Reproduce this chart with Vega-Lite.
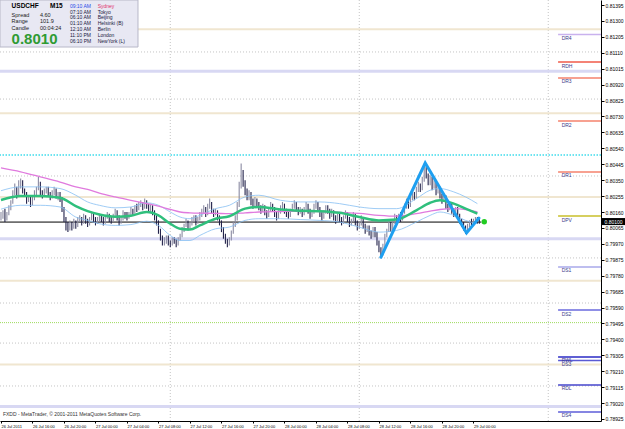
{
"$schema": "https://vega.github.io/schema/vega-lite/v6.json",
"width": 601, "height": 421,
"autosize": "none",
"padding": {"left": 0, "top": 0, "right": 24, "bottom": 8},
"background": "white",
"config": {"font": "Liberation Sans", "view": {"stroke": null}, "axis": {"grid": false}},
"datasets": {
"bars": [
{"i":0,"o":0.8013,"h":0.8016,"l":0.8011,"c":0.8014},
{"i":1,"o":0.8014,"h":0.8017,"l":0.8012,"c":0.8016},
{"i":2,"o":0.8016,"h":0.8018,"l":0.801,"c":0.8012},
{"i":3,"o":0.8012,"h":0.8016,"l":0.8011,"c":0.8015},
{"i":4,"o":0.8015,"h":0.802,"l":0.8014,"c":0.8018},
{"i":5,"o":0.8018,"h":0.8023,"l":0.8017,"c":0.8022},
{"i":6,"o":0.8022,"h":0.8029,"l":0.8021,"c":0.8027},
{"i":7,"o":0.8027,"h":0.8033,"l":0.8026,"c":0.803},
{"i":8,"o":0.803,"h":0.8031,"l":0.8024,"c":0.8026},
{"i":9,"o":0.8026,"h":0.8035,"l":0.8025,"c":0.8032},
{"i":10,"o":0.8032,"h":0.8036,"l":0.803,"c":0.8034},
{"i":11,"o":0.8034,"h":0.8035,"l":0.8027,"c":0.8029},
{"i":12,"o":0.8029,"h":0.803,"l":0.8025,"c":0.8027},
{"i":13,"o":0.8027,"h":0.8028,"l":0.8021,"c":0.8023},
{"i":14,"o":0.8023,"h":0.8026,"l":0.8022,"c":0.8025},
{"i":15,"o":0.8025,"h":0.8026,"l":0.8019,"c":0.8021},
{"i":16,"o":0.8021,"h":0.8025,"l":0.802,"c":0.8024},
{"i":17,"o":0.8024,"h":0.8029,"l":0.8023,"c":0.8027},
{"i":18,"o":0.8027,"h":0.8031,"l":0.8026,"c":0.803},
{"i":19,"o":0.803,"h":0.8037,"l":0.8029,"c":0.8033},
{"i":20,"o":0.8033,"h":0.8034,"l":0.8026,"c":0.8028},
{"i":21,"o":0.8028,"h":0.8029,"l":0.8024,"c":0.8026},
{"i":22,"o":0.8026,"h":0.803,"l":0.8025,"c":0.8028},
{"i":23,"o":0.8028,"h":0.8031,"l":0.8027,"c":0.803},
{"i":24,"o":0.803,"h":0.8031,"l":0.8025,"c":0.8027},
{"i":25,"o":0.8027,"h":0.8028,"l":0.8023,"c":0.8025},
{"i":26,"o":0.8025,"h":0.8029,"l":0.8024,"c":0.8028},
{"i":27,"o":0.8028,"h":0.8031,"l":0.8026,"c":0.8029},
{"i":28,"o":0.8029,"h":0.803,"l":0.8024,"c":0.8026},
{"i":29,"o":0.8026,"h":0.8028,"l":0.8023,"c":0.8027},
{"i":30,"o":0.8027,"h":0.8028,"l":0.8022,"c":0.8024},
{"i":31,"o":0.8024,"h":0.8025,"l":0.8016,"c":0.8018},
{"i":32,"o":0.8018,"h":0.8019,"l":0.801,"c":0.8012},
{"i":33,"o":0.8012,"h":0.8013,"l":0.8005,"c":0.8008},
{"i":34,"o":0.8008,"h":0.801,"l":0.8004,"c":0.8006},
{"i":35,"o":0.8006,"h":0.8011,"l":0.8005,"c":0.8009},
{"i":36,"o":0.8009,"h":0.801,"l":0.8005,"c":0.8007},
{"i":37,"o":0.8007,"h":0.8012,"l":0.8006,"c":0.801},
{"i":38,"o":0.801,"h":0.8011,"l":0.8006,"c":0.8008},
{"i":39,"o":0.8008,"h":0.8013,"l":0.8007,"c":0.8011},
{"i":40,"o":0.8011,"h":0.8014,"l":0.801,"c":0.8012},
{"i":41,"o":0.8012,"h":0.8013,"l":0.8008,"c":0.801},
{"i":42,"o":0.801,"h":0.8015,"l":0.8009,"c":0.8013},
{"i":43,"o":0.8013,"h":0.8014,"l":0.8009,"c":0.8011},
{"i":44,"o":0.8011,"h":0.8012,"l":0.8007,"c":0.8009},
{"i":45,"o":0.8009,"h":0.8013,"l":0.8008,"c":0.8012},
{"i":46,"o":0.8012,"h":0.8016,"l":0.8011,"c":0.8014},
{"i":47,"o":0.8014,"h":0.8015,"l":0.801,"c":0.8012},
{"i":48,"o":0.8012,"h":0.8013,"l":0.8008,"c":0.801},
{"i":49,"o":0.801,"h":0.8013,"l":0.8009,"c":0.8011},
{"i":50,"o":0.8011,"h":0.8015,"l":0.801,"c":0.8013},
{"i":51,"o":0.8013,"h":0.8014,"l":0.801,"c":0.8012},
{"i":52,"o":0.8012,"h":0.8013,"l":0.8008,"c":0.801},
{"i":53,"o":0.801,"h":0.8014,"l":0.8009,"c":0.8013},
{"i":54,"o":0.8013,"h":0.8016,"l":0.8012,"c":0.8014},
{"i":55,"o":0.8014,"h":0.8015,"l":0.801,"c":0.8012},
{"i":56,"o":0.8012,"h":0.8013,"l":0.8009,"c":0.8011},
{"i":57,"o":0.8011,"h":0.8015,"l":0.801,"c":0.8014},
{"i":58,"o":0.8014,"h":0.8018,"l":0.8013,"c":0.8016},
{"i":59,"o":0.8016,"h":0.8017,"l":0.8011,"c":0.8013},
{"i":60,"o":0.8013,"h":0.8014,"l":0.8008,"c":0.801},
{"i":61,"o":0.801,"h":0.8013,"l":0.8009,"c":0.8012},
{"i":62,"o":0.8012,"h":0.8017,"l":0.8011,"c":0.8015},
{"i":63,"o":0.8015,"h":0.8016,"l":0.8012,"c":0.8014},
{"i":64,"o":0.8014,"h":0.8016,"l":0.8011,"c":0.8013},
{"i":65,"o":0.8013,"h":0.8016,"l":0.8012,"c":0.8015},
{"i":66,"o":0.8015,"h":0.8019,"l":0.8014,"c":0.8017},
{"i":67,"o":0.8017,"h":0.8018,"l":0.8014,"c":0.8016},
{"i":68,"o":0.8016,"h":0.802,"l":0.8015,"c":0.8019},
{"i":69,"o":0.8019,"h":0.8021,"l":0.8016,"c":0.8018},
{"i":70,"o":0.8018,"h":0.8022,"l":0.8017,"c":0.802},
{"i":71,"o":0.802,"h":0.8023,"l":0.8019,"c":0.8021},
{"i":72,"o":0.8021,"h":0.8022,"l":0.8017,"c":0.8019},
{"i":73,"o":0.8019,"h":0.8024,"l":0.8018,"c":0.8022},
{"i":74,"o":0.8022,"h":0.8023,"l":0.8018,"c":0.802},
{"i":75,"o":0.802,"h":0.8021,"l":0.8016,"c":0.8018},
{"i":76,"o":0.8018,"h":0.8021,"l":0.8016,"c":0.8019},
{"i":77,"o":0.8019,"h":0.802,"l":0.8014,"c":0.8016},
{"i":78,"o":0.8016,"h":0.8017,"l":0.8011,"c":0.8013},
{"i":79,"o":0.8013,"h":0.8014,"l":0.8008,"c":0.801},
{"i":80,"o":0.801,"h":0.8011,"l":0.8003,"c":0.8005},
{"i":81,"o":0.8005,"h":0.8006,"l":0.7999,"c":0.8001},
{"i":82,"o":0.8001,"h":0.8002,"l":0.7996,"c":0.7998},
{"i":83,"o":0.7998,"h":0.8001,"l":0.7996,"c":0.7999},
{"i":84,"o":0.7999,"h":0.8002,"l":0.7997,"c":0.8001},
{"i":85,"o":0.8001,"h":0.8002,"l":0.7996,"c":0.7998},
{"i":86,"o":0.7998,"h":0.7999,"l":0.7995,"c":0.7997},
{"i":87,"o":0.7997,"h":0.8001,"l":0.7996,"c":0.8},
{"i":88,"o":0.8,"h":0.8001,"l":0.7997,"c":0.7999},
{"i":89,"o":0.7999,"h":0.8,"l":0.7995,"c":0.7997},
{"i":90,"o":0.7997,"h":0.8001,"l":0.7996,"c":0.8},
{"i":91,"o":0.8,"h":0.8003,"l":0.7999,"c":0.8002},
{"i":92,"o":0.8002,"h":0.8007,"l":0.8001,"c":0.8005},
{"i":93,"o":0.8005,"h":0.8009,"l":0.8004,"c":0.8008},
{"i":94,"o":0.8008,"h":0.8012,"l":0.8007,"c":0.801},
{"i":95,"o":0.801,"h":0.8011,"l":0.8005,"c":0.8007},
{"i":96,"o":0.8007,"h":0.801,"l":0.8006,"c":0.8009},
{"i":97,"o":0.8009,"h":0.8013,"l":0.8008,"c":0.8011},
{"i":98,"o":0.8011,"h":0.8014,"l":0.801,"c":0.8013},
{"i":99,"o":0.8013,"h":0.8014,"l":0.8008,"c":0.801},
{"i":100,"o":0.801,"h":0.8013,"l":0.8009,"c":0.8012},
{"i":101,"o":0.8012,"h":0.8016,"l":0.8011,"c":0.8014},
{"i":102,"o":0.8014,"h":0.8018,"l":0.8013,"c":0.8016},
{"i":103,"o":0.8016,"h":0.802,"l":0.8015,"c":0.8018},
{"i":104,"o":0.8018,"h":0.8019,"l":0.8013,"c":0.8015},
{"i":105,"o":0.8015,"h":0.8021,"l":0.8014,"c":0.8019},
{"i":106,"o":0.8019,"h":0.8024,"l":0.8018,"c":0.8021},
{"i":107,"o":0.8021,"h":0.8022,"l":0.8015,"c":0.8017},
{"i":108,"o":0.8017,"h":0.8018,"l":0.8013,"c":0.8015},
{"i":109,"o":0.8015,"h":0.8018,"l":0.8014,"c":0.8016},
{"i":110,"o":0.8016,"h":0.8017,"l":0.8011,"c":0.8013},
{"i":111,"o":0.8013,"h":0.8014,"l":0.8008,"c":0.801},
{"i":112,"o":0.801,"h":0.8011,"l":0.8004,"c":0.8006},
{"i":113,"o":0.8006,"h":0.8007,"l":0.8,"c":0.8002},
{"i":114,"o":0.8002,"h":0.8003,"l":0.7997,"c":0.7999},
{"i":115,"o":0.7999,"h":0.8,"l":0.7995,"c":0.7997},
{"i":116,"o":0.7997,"h":0.8001,"l":0.7996,"c":0.8},
{"i":117,"o":0.8,"h":0.8005,"l":0.7999,"c":0.8004},
{"i":118,"o":0.8004,"h":0.801,"l":0.8003,"c":0.8008},
{"i":119,"o":0.8008,"h":0.8014,"l":0.8007,"c":0.8012},
{"i":120,"o":0.8012,"h":0.8022,"l":0.8011,"c":0.802},
{"i":121,"o":0.802,"h":0.8034,"l":0.8019,"c":0.8032},
{"i":122,"o":0.8032,"h":0.8045,"l":0.803,"c":0.804},
{"i":123,"o":0.804,"h":0.8041,"l":0.8031,"c":0.8033},
{"i":124,"o":0.8033,"h":0.8035,"l":0.8026,"c":0.8028},
{"i":125,"o":0.8028,"h":0.803,"l":0.8023,"c":0.8025},
{"i":126,"o":0.8025,"h":0.8029,"l":0.8023,"c":0.8027},
{"i":127,"o":0.8027,"h":0.8028,"l":0.802,"c":0.8022},
{"i":128,"o":0.8022,"h":0.8024,"l":0.8018,"c":0.802},
{"i":129,"o":0.802,"h":0.8025,"l":0.8019,"c":0.8023},
{"i":130,"o":0.8023,"h":0.8024,"l":0.8019,"c":0.8021},
{"i":131,"o":0.8021,"h":0.8022,"l":0.8017,"c":0.8019},
{"i":132,"o":0.8019,"h":0.802,"l":0.8015,"c":0.8017},
{"i":133,"o":0.8017,"h":0.8021,"l":0.8016,"c":0.8019},
{"i":134,"o":0.8019,"h":0.802,"l":0.8014,"c":0.8016},
{"i":135,"o":0.8016,"h":0.8017,"l":0.8012,"c":0.8014},
{"i":136,"o":0.8014,"h":0.8018,"l":0.8013,"c":0.8017},
{"i":137,"o":0.8017,"h":0.8022,"l":0.8016,"c":0.802},
{"i":138,"o":0.802,"h":0.8021,"l":0.8016,"c":0.8018},
{"i":139,"o":0.8018,"h":0.8019,"l":0.8013,"c":0.8015},
{"i":140,"o":0.8015,"h":0.8016,"l":0.8011,"c":0.8013},
{"i":141,"o":0.8013,"h":0.8017,"l":0.8012,"c":0.8016},
{"i":142,"o":0.8016,"h":0.802,"l":0.8015,"c":0.8018},
{"i":143,"o":0.8018,"h":0.8022,"l":0.8017,"c":0.802},
{"i":144,"o":0.802,"h":0.8021,"l":0.8015,"c":0.8017},
{"i":145,"o":0.8017,"h":0.8018,"l":0.8013,"c":0.8015},
{"i":146,"o":0.8015,"h":0.8016,"l":0.8012,"c":0.8014},
{"i":147,"o":0.8014,"h":0.8018,"l":0.8013,"c":0.8017},
{"i":148,"o":0.8017,"h":0.8021,"l":0.8016,"c":0.8019},
{"i":149,"o":0.8019,"h":0.8023,"l":0.8018,"c":0.8021},
{"i":150,"o":0.8021,"h":0.8022,"l":0.8016,"c":0.8018},
{"i":151,"o":0.8018,"h":0.8019,"l":0.8014,"c":0.8016},
{"i":152,"o":0.8016,"h":0.8019,"l":0.8015,"c":0.8017},
{"i":153,"o":0.8017,"h":0.8018,"l":0.8013,"c":0.8015},
{"i":154,"o":0.8015,"h":0.8019,"l":0.8014,"c":0.8018},
{"i":155,"o":0.8018,"h":0.8022,"l":0.8017,"c":0.802},
{"i":156,"o":0.802,"h":0.8021,"l":0.8015,"c":0.8017},
{"i":157,"o":0.8017,"h":0.8018,"l":0.8012,"c":0.8014},
{"i":158,"o":0.8014,"h":0.8017,"l":0.8013,"c":0.8016},
{"i":159,"o":0.8016,"h":0.8021,"l":0.8015,"c":0.8019},
{"i":160,"o":0.8019,"h":0.8023,"l":0.8018,"c":0.8021},
{"i":161,"o":0.8021,"h":0.8022,"l":0.8016,"c":0.8018},
{"i":162,"o":0.8018,"h":0.8019,"l":0.8013,"c":0.8015},
{"i":163,"o":0.8015,"h":0.8016,"l":0.8011,"c":0.8013},
{"i":164,"o":0.8013,"h":0.8017,"l":0.8012,"c":0.8016},
{"i":165,"o":0.8016,"h":0.802,"l":0.8015,"c":0.8019},
{"i":166,"o":0.8019,"h":0.802,"l":0.8015,"c":0.8017},
{"i":167,"o":0.8017,"h":0.8018,"l":0.8012,"c":0.8014},
{"i":168,"o":0.8014,"h":0.8018,"l":0.8013,"c":0.8016},
{"i":169,"o":0.8016,"h":0.8017,"l":0.8011,"c":0.8013},
{"i":170,"o":0.8013,"h":0.8014,"l":0.8009,"c":0.8011},
{"i":171,"o":0.8011,"h":0.8015,"l":0.801,"c":0.8014},
{"i":172,"o":0.8014,"h":0.8015,"l":0.801,"c":0.8012},
{"i":173,"o":0.8012,"h":0.8013,"l":0.8008,"c":0.801},
{"i":174,"o":0.801,"h":0.8014,"l":0.8009,"c":0.8013},
{"i":175,"o":0.8013,"h":0.8017,"l":0.8012,"c":0.8015},
{"i":176,"o":0.8015,"h":0.8016,"l":0.801,"c":0.8012},
{"i":177,"o":0.8012,"h":0.8013,"l":0.8007,"c":0.8009},
{"i":178,"o":0.8009,"h":0.8012,"l":0.8008,"c":0.8011},
{"i":179,"o":0.8011,"h":0.8016,"l":0.801,"c":0.8014},
{"i":180,"o":0.8014,"h":0.8015,"l":0.8008,"c":0.801},
{"i":181,"o":0.801,"h":0.8011,"l":0.8005,"c":0.8007},
{"i":182,"o":0.8007,"h":0.801,"l":0.8006,"c":0.8009},
{"i":183,"o":0.8009,"h":0.8014,"l":0.8008,"c":0.8012},
{"i":184,"o":0.8012,"h":0.8013,"l":0.8006,"c":0.8008},
{"i":185,"o":0.8008,"h":0.8009,"l":0.8003,"c":0.8005},
{"i":186,"o":0.8005,"h":0.8008,"l":0.8004,"c":0.8007},
{"i":187,"o":0.8007,"h":0.8008,"l":0.8002,"c":0.8004},
{"i":188,"o":0.8004,"h":0.8005,"l":0.8,"c":0.8002},
{"i":189,"o":0.8002,"h":0.8007,"l":0.8001,"c":0.8006},
{"i":190,"o":0.8006,"h":0.8007,"l":0.8001,"c":0.8003},
{"i":191,"o":0.8003,"h":0.8004,"l":0.7996,"c":0.7998},
{"i":192,"o":0.7998,"h":0.7999,"l":0.7992,"c":0.7994},
{"i":193,"o":0.7994,"h":0.7995,"l":0.7989,"c":0.7991},
{"i":194,"o":0.7991,"h":0.7997,"l":0.799,"c":0.7996},
{"i":195,"o":0.7996,"h":0.8003,"l":0.7995,"c":0.8002},
{"i":196,"o":0.8002,"h":0.8006,"l":0.8001,"c":0.8005},
{"i":197,"o":0.8005,"h":0.801,"l":0.8004,"c":0.8009},
{"i":198,"o":0.8009,"h":0.801,"l":0.8004,"c":0.8006},
{"i":199,"o":0.8006,"h":0.8011,"l":0.8005,"c":0.801},
{"i":200,"o":0.801,"h":0.8015,"l":0.8009,"c":0.8013},
{"i":201,"o":0.8013,"h":0.8014,"l":0.8009,"c":0.8011},
{"i":202,"o":0.8011,"h":0.8015,"l":0.801,"c":0.8014},
{"i":203,"o":0.8014,"h":0.8016,"l":0.801,"c":0.8012},
{"i":204,"o":0.8012,"h":0.8017,"l":0.8011,"c":0.8016},
{"i":205,"o":0.8016,"h":0.8021,"l":0.8015,"c":0.8019},
{"i":206,"o":0.8019,"h":0.8024,"l":0.8018,"c":0.8022},
{"i":207,"o":0.8022,"h":0.8023,"l":0.8018,"c":0.802},
{"i":208,"o":0.802,"h":0.8026,"l":0.8019,"c":0.8024},
{"i":209,"o":0.8024,"h":0.8029,"l":0.8023,"c":0.8027},
{"i":210,"o":0.8027,"h":0.8028,"l":0.8023,"c":0.8025},
{"i":211,"o":0.8025,"h":0.8031,"l":0.8024,"c":0.8029},
{"i":212,"o":0.8029,"h":0.8034,"l":0.8028,"c":0.8032},
{"i":213,"o":0.8032,"h":0.8033,"l":0.8028,"c":0.803},
{"i":214,"o":0.803,"h":0.8037,"l":0.8029,"c":0.8035},
{"i":215,"o":0.8035,"h":0.8045,"l":0.8034,"c":0.8041},
{"i":216,"o":0.8041,"h":0.8043,"l":0.8036,"c":0.8038},
{"i":217,"o":0.8038,"h":0.8039,"l":0.8032,"c":0.8034},
{"i":218,"o":0.8034,"h":0.8038,"l":0.8032,"c":0.8036},
{"i":219,"o":0.8036,"h":0.8037,"l":0.8029,"c":0.8031},
{"i":220,"o":0.8031,"h":0.8035,"l":0.803,"c":0.8033},
{"i":221,"o":0.8033,"h":0.8034,"l":0.8026,"c":0.8028},
{"i":222,"o":0.8028,"h":0.8032,"l":0.8027,"c":0.803},
{"i":223,"o":0.803,"h":0.8031,"l":0.8024,"c":0.8026},
{"i":224,"o":0.8026,"h":0.8027,"l":0.8021,"c":0.8023},
{"i":225,"o":0.8023,"h":0.8027,"l":0.8022,"c":0.8025},
{"i":226,"o":0.8025,"h":0.8026,"l":0.8018,"c":0.802},
{"i":227,"o":0.802,"h":0.8021,"l":0.8016,"c":0.8018},
{"i":228,"o":0.8018,"h":0.8022,"l":0.8017,"c":0.8021},
{"i":229,"o":0.8021,"h":0.8022,"l":0.8015,"c":0.8017},
{"i":230,"o":0.8017,"h":0.8018,"l":0.8013,"c":0.8015},
{"i":231,"o":0.8015,"h":0.8019,"l":0.8014,"c":0.8018},
{"i":232,"o":0.8018,"h":0.8019,"l":0.8012,"c":0.8014},
{"i":233,"o":0.8014,"h":0.8015,"l":0.8009,"c":0.8011},
{"i":234,"o":0.8011,"h":0.8012,"l":0.8007,"c":0.8009},
{"i":235,"o":0.8009,"h":0.801,"l":0.8005,"c":0.8007},
{"i":236,"o":0.8007,"h":0.8008,"l":0.8003,"c":0.8006},
{"i":237,"o":0.8006,"h":0.8009,"l":0.8005,"c":0.8008},
{"i":238,"o":0.8008,"h":0.8011,"l":0.8007,"c":0.801},
{"i":239,"o":0.801,"h":0.8012,"l":0.8008,"c":0.8009},
{"i":240,"o":0.8009,"h":0.8012,"l":0.8008,"c":0.8011},
{"i":241,"o":0.8011,"h":0.8013,"l":0.801,"c":0.8012},
{"i":242,"o":0.8012,"h":0.8013,"l":0.8009,"c":0.8011},
{"i":243,"o":0.8011,"h":0.8012,"l":0.8009,"c":0.801}
],
"ma": [
{"i":0,"pk":0.80423,"g":0.80232,"u":0.80287,"d":0.80177},
{"i":10,"pk":0.804,"g":0.80255,"u":0.8031,"d":0.802},
{"i":20,"pk":0.8037,"g":0.80255,"u":0.8031,"d":0.802},
{"i":30,"pk":0.80339,"g":0.80245,"u":0.803,"d":0.8019},
{"i":38,"pk":0.8031,"g":0.80195,"u":0.8026,"d":0.8013},
{"i":44,"pk":0.80295,"g":0.80165,"u":0.8022,"d":0.8011},
{"i":50,"pk":0.80273,"g":0.80145,"u":0.802,"d":0.8009},
{"i":58,"pk":0.8025,"g":0.80132,"u":0.80185,"d":0.8008},
{"i":66,"pk":0.8023,"g":0.80138,"u":0.8019,"d":0.80085},
{"i":74,"pk":0.8021,"g":0.8016,"u":0.80215,"d":0.80105},
{"i":80,"pk":0.80195,"g":0.8014,"u":0.802,"d":0.8008},
{"i":86,"pk":0.80175,"g":0.8009,"u":0.8016,"d":0.8002},
{"i":91,"pk":0.8016,"g":0.8006,"u":0.8013,"d":0.7999},
{"i":96,"pk":0.80155,"g":0.80055,"u":0.8012,"d":0.7999},
{"i":101,"pk":0.80153,"g":0.8008,"u":0.8014,"d":0.8002},
{"i":109,"pk":0.80152,"g":0.8012,"u":0.8018,"d":0.8006},
{"i":116,"pk":0.8015,"g":0.80135,"u":0.802,"d":0.8007},
{"i":124,"pk":0.80155,"g":0.8018,"u":0.8025,"d":0.8011},
{"i":131,"pk":0.8016,"g":0.8019,"u":0.8026,"d":0.8012},
{"i":142,"pk":0.80163,"g":0.80175,"u":0.8023,"d":0.8012},
{"i":152,"pk":0.80165,"g":0.80168,"u":0.8022,"d":0.80115},
{"i":162,"pk":0.80163,"g":0.80165,"u":0.8022,"d":0.8011},
{"i":172,"pk":0.80158,"g":0.80155,"u":0.8021,"d":0.801},
{"i":182,"pk":0.80152,"g":0.8013,"u":0.8019,"d":0.8007},
{"i":192,"pk":0.8014,"g":0.8011,"u":0.8018,"d":0.8004},
{"i":201,"pk":0.80135,"g":0.80115,"u":0.8018,"d":0.8005},
{"i":211,"pk":0.8015,"g":0.8017,"u":0.8024,"d":0.801},
{"i":218,"pk":0.80165,"g":0.80215,"u":0.8029,"d":0.8014},
{"i":223,"pk":0.80175,"g":0.8023,"u":0.803,"d":0.8016},
{"i":230,"pk":0.8018,"g":0.8021,"u":0.8028,"d":0.8014},
{"i":236,"pk":0.80175,"g":0.8018,"u":0.8025,"d":0.8011},
{"i":242,"pk":0.8016,"g":0.8015,"u":0.8021,"d":0.8009}
]
},
"layer": [
{
"data": {"values": [{"i":86},{"i":182},{"i":278}]},
"mark": {"type": "rule", "color": "#c4c4c4", "strokeDash": [1, 2], "strokeWidth": 1},
"encoding": {"x": {"field": "i", "type": "quantitative", "title": null}}
},
{
"data": {"values": [{"p":0.81},{"p":0.8},{"p":0.79}]},
"mark": {"type": "rule", "color": "#d8d8f3", "strokeWidth": 3},
"encoding": {"y": {"field": "p", "type": "quantitative", "title": null}}
},
{
"data": {"values": [{"p":0.8125},{"p":0.8075},{"p":0.8025},{"p":0.7975},{"p":0.7925}]},
"mark": {"type": "rule", "color": "#f0e6d0", "strokeWidth": 2},
"encoding": {"y": {"field": "p", "type": "quantitative", "title": null}}
},
{
"data": {"values": [{"p":0.81115},{"p":0.80834},{"p":0.80375},{"p":0.79886},{"p":0.79617},{"p":0.79378},{"p":0.79122}]},
"mark": {"type": "rule", "color": "#c4c4c4", "strokeDash": [1, 2], "strokeWidth": 1},
"encoding": {"y": {"field": "p", "type": "quantitative", "title": null}}
},
{
"data": {"values": [{"p":0.805}]},
"mark": {"type": "rule", "color": "#3fdcec", "strokeDash": [1.5, 1.5], "strokeWidth": 1.5},
"encoding": {"y": {"field": "p", "type": "quantitative", "title": null}}
},
{
"data": {"values": [{"p":0.795}]},
"mark": {"type": "rule", "color": "#9edc5e", "strokeDash": [1, 1], "strokeWidth": 1},
"encoding": {"y": {"field": "p", "type": "quantitative", "title": null}}
},
{
"data": {"values": [{"i0":-0.5,"i1":244,"p":0.801}]},
"mark": {"type": "rule", "color": "#000000", "strokeWidth": 1},
"encoding": {
"x": {"field": "i0", "type": "quantitative", "title": null},
"x2": {"field": "i1"},
"y": {"field": "p", "type": "quantitative", "title": null}
}
},
{
"data": {"values": [
{"n":"DR4","i0":283,"i1":304.8,"p":0.81219},
{"n":"RDH","i0":283,"i1":304.8,"p":0.81055},
{"n":"DR3","i0":283,"i1":304.8,"p":0.8096},
{"n":"DR2","i0":283,"i1":304.8,"p":0.80703},
{"n":"DR1","i0":283,"i1":304.8,"p":0.80399},
{"n":"DPV","i0":283,"i1":304.8,"p":0.80136},
{"n":"DS1","i0":283,"i1":304.8,"p":0.79832},
{"n":"DS2","i0":283,"i1":304.8,"p":0.79575},
{"n":"RWL","i0":283,"i1":304.8,"p":0.79295},
{"n":"DS3","i0":283,"i1":304.8,"p":0.79274},
{"n":"RDL","i0":283,"i1":304.8,"p":0.79128},
{"n":"DS4","i0":283,"i1":304.8,"p":0.78967}
]},
"mark": {"type": "rule", "strokeWidth": 1.5},
"encoding": {
"x": {"field": "i0", "type": "quantitative", "title": null},
"x2": {"field": "i1"},
"y": {"field": "p", "type": "quantitative", "title": null},
"color": {"field": "n", "type": "nominal", "legend": null,
"scale": {"domain": ["DR4","RDH","DR3","DR2","DR1","DPV","DS1","DS2","RWL","DS3","RDL","DS4"],
"range": ["#c9b2ee","#f05a48","#f4826c","#f4826c","#f4826c","#c8bf2a","#a9a9ea","#6a6ade","#2a2ac4","#5a5ad4","#4646cc","#5c5cd8"]}}
}
},
{
"data": {"values": [
{"t":"DR4","i":284.8,"p":0.81198},
{"t":"RDH","i":284.8,"p":0.81034},
{"t":"DR3","i":284.8,"p":0.80939},
{"t":"DR2","i":284.8,"p":0.80682},
{"t":"DR1","i":284.8,"p":0.80378},
{"t":"DPV","i":284.8,"p":0.80115},
{"t":"DS1","i":284.8,"p":0.79811},
{"t":"DS2","i":284.8,"p":0.79554},
{"t":"RWL","i":284.8,"p":0.79277},
{"t":"DS3","i":284.8,"p":0.79253},
{"t":"RDL","i":284.8,"p":0.79107},
{"t":"DS4","i":284.8,"p":0.78946}
]},
"mark": {"type": "text", "fontSize": 5, "color": "#3a3a8a", "align": "left", "baseline": "middle"},
"encoding": {
"x": {"field": "i", "type": "quantitative", "title": null},
"y": {"field": "p", "type": "quantitative", "title": null},
"text": {"field": "t"}
}
},
{
"data": {"name": "bars"},
"mark": {"type": "rule", "strokeWidth": 1.1},
"encoding": {
"x": {"field": "i", "type": "quantitative", "title": null,
"scale": {"domain": [-0.5, 304.8], "nice": false, "zero": false},
"axis": {"values": [0,16,32,48,64,80,96,112,128,144,160,176,192,208,224,240], "tickCount": 40,
"labelExpr": "['26 Jul 2011','26 Jul 16:00','26 Jul 20:00','27 Jul 00:00','27 Jul 04:00','27 Jul 08:00','27 Jul 12:00','27 Jul 16:00','27 Jul 20:00','28 Jul 00:00','28 Jul 04:00','28 Jul 08:00','28 Jul 12:00','28 Jul 16:00','28 Jul 20:00','29 Jul 00:00'][round(datum.value/16)]",
"labelFontSize": 4, "labelAlign": "left", "labelPadding": 1, "tickSize": 2,
"domainColor": "#000000", "tickColor": "#000000", "labelColor": "#000000",
"labelOverlap": false, "labelFlush": false, "labelBound": false}},
"y": {"field": "l", "type": "quantitative", "title": null,
"scale": {"domain": [0.78913, 0.81425], "nice": false, "zero": false},
"axis": {"orient": "right", "tickCount": 60,
"values": [0.78925,0.7902,0.79115,0.7921,0.79305,0.794,0.79495,0.7959,0.79685,0.7978,0.79875,0.7997,0.80065,0.8016,0.80255,0.8035,0.80445,0.8054,0.80635,0.8073,0.80825,0.8092,0.81015,0.8111,0.81205,0.813,0.81395],
"format": ".5f", "labelFontSize": 5, "tickSize": 3, "labelPadding": 1,
"domainColor": "#000000", "tickColor": "#000000", "labelColor": "#000000",
"labelOverlap": false, "labelFlush": false, "labelBound": false}},
"y2": {"field": "h"},
"color": {"condition": {"test": "datum.c >= datum.o", "value": "#8a8aa2"}, "value": "#22224a"}
}
},
{
"data": {"name": "ma"},
"mark": {"type": "line", "color": "#86bff2", "strokeWidth": 0.8, "interpolate": "monotone"},
"encoding": {
"x": {"field": "i", "type": "quantitative", "title": null},
"y": {"field": "u", "type": "quantitative", "title": null}
}
},
{
"data": {"name": "ma"},
"mark": {"type": "line", "color": "#86bff2", "strokeWidth": 0.8, "interpolate": "monotone"},
"encoding": {
"x": {"field": "i", "type": "quantitative", "title": null},
"y": {"field": "d", "type": "quantitative", "title": null}
}
},
{
"data": {"name": "ma"},
"mark": {"type": "line", "color": "#e07ade", "strokeWidth": 1.3, "interpolate": "monotone"},
"encoding": {
"x": {"field": "i", "type": "quantitative", "title": null},
"y": {"field": "pk", "type": "quantitative", "title": null}
}
},
{
"data": {"name": "ma"},
"mark": {"type": "line", "color": "#2fbf7c", "strokeWidth": 2.5, "interpolate": "monotone"},
"encoding": {
"x": {"field": "i", "type": "quantitative", "title": null},
"y": {"field": "g", "type": "quantitative", "title": null}
}
},
{
"data": {"values": [{"i":193,"p":0.7989},{"i":215.5,"p":0.80452},{"i":236.5,"p":0.80035},{"i":242.8,"p":0.80124}]},
"mark": {"type": "line", "color": "#1e9ff0", "strokeWidth": 3, "strokeCap": "round", "strokeJoin": "miter"},
"encoding": {
"x": {"field": "i", "type": "quantitative", "title": null},
"y": {"field": "p", "type": "quantitative", "title": null}
}
},
{
"data": {"values": [{"i":245.5,"p":0.80102}]},
"mark": {"type": "point", "filled": true, "size": 30, "color": "#22cc22", "opacity": 1},
"encoding": {
"x": {"field": "i", "type": "quantitative", "title": null},
"y": {"field": "p", "type": "quantitative", "title": null}
}
},
{
"data": {"values": [{"i0":-0.5,"i1":69.6,"p0":0.81425,"p1":0.811445}]},
"mark": {"type": "rect", "fill": "#e8e8f3", "stroke": "#b8b8c8", "strokeWidth": 1},
"encoding": {
"x": {"field": "i0", "type": "quantitative", "title": null},
"x2": {"field": "i1"},
"y": {"field": "p0", "type": "quantitative", "title": null},
"y2": {"field": "p1"}
}
},
{
"data": {"values": [{"i":5.4,"p":0.81389,"t":"USDCHF"},{"i":24.9,"p":0.81389,"t":"M15"}]},
"mark": {"type": "text", "fontSize": 6.5, "fontWeight": "bold", "color": "#000000", "align": "left", "baseline": "middle"},
"encoding": {
"x": {"field": "i", "type": "quantitative", "title": null},
"y": {"field": "p", "type": "quantitative", "title": null},
"text": {"field": "t"}
}
},
{
"data": {"values": [
{"i":5.4,"p":0.81336,"t":"Spread"},{"i":19.8,"p":0.81336,"t":"4.60"},
{"i":5.4,"p":0.81298,"t":"Range"},{"i":19.8,"p":0.81298,"t":"101.9"},
{"i":5.4,"p":0.81256,"t":"Candle"},{"i":19.8,"p":0.81256,"t":"00:04:24"}
]},
"mark": {"type": "text", "fontSize": 5.5, "color": "#202020", "align": "left", "baseline": "middle"},
"encoding": {
"x": {"field": "i", "type": "quantitative", "title": null},
"y": {"field": "p", "type": "quantitative", "title": null},
"text": {"field": "t"}
}
},
{
"data": {"values": [{"i":5.4,"p":0.8119,"t":"0.8010"}]},
"mark": {"type": "text", "fontSize": 15, "fontWeight": "bold", "color": "#2f9b33", "align": "left", "baseline": "middle"},
"encoding": {
"x": {"field": "i", "type": "quantitative", "title": null},
"y": {"field": "p", "type": "quantitative", "title": null},
"text": {"field": "t"}
}
},
{
"data": {"values": [{"i":35,"p":0.81391,"t":"09:10 AM"}]},
"mark": {"type": "text", "fontSize": 5, "color": "#2a48e8", "align": "left", "baseline": "middle"},
"encoding": {
"x": {"field": "i", "type": "quantitative", "title": null},
"y": {"field": "p", "type": "quantitative", "title": null},
"text": {"field": "t"}
}
},
{
"data": {"values": [{"i":49.1,"p":0.81391,"t":"Sydney"}]},
"mark": {"type": "text", "fontSize": 5, "color": "#e0306a", "align": "left", "baseline": "middle"},
"encoding": {
"x": {"field": "i", "type": "quantitative", "title": null},
"y": {"field": "p", "type": "quantitative", "title": null},
"text": {"field": "t"}
}
},
{
"data": {"values": [
{"i":35,"p":0.81355,"t":"07:10 AM"},{"i":49.1,"p":0.81355,"t":"Tokyo"},
{"i":35,"p":0.81322,"t":"06:10 AM"},{"i":49.1,"p":0.81322,"t":"Beijing"},
{"i":35,"p":0.81286,"t":"01:10 AM"},{"i":49.1,"p":0.81286,"t":"Helsinki (B)"},
{"i":35,"p":0.81252,"t":"12:10 AM"},{"i":49.1,"p":0.81252,"t":"Berlin"},
{"i":35,"p":0.81218,"t":"11:10 PM"},{"i":49.1,"p":0.81218,"t":"London"},
{"i":35,"p":0.81182,"t":"06:10 PM"},{"i":49.1,"p":0.81182,"t":"NewYork (L)"}
]},
"mark": {"type": "text", "fontSize": 5, "color": "#202040", "align": "left", "baseline": "middle"},
"encoding": {
"x": {"field": "i", "type": "quantitative", "title": null},
"y": {"field": "p", "type": "quantitative", "title": null},
"text": {"field": "t"}
}
},
{
"data": {"values": [{"i":1,"p":0.78955,"t":"FXDD - MetaTrader, © 2001-2011 MetaQuotes Software Corp."}]},
"mark": {"type": "text", "fontSize": 5, "color": "#333333", "align": "left", "baseline": "middle"},
"encoding": {
"x": {"field": "i", "type": "quantitative", "title": null},
"y": {"field": "p", "type": "quantitative", "title": null},
"text": {"field": "t"}
}
},
{
"data": {"values": [{"i0":305.1,"i1":317,"p0":0.80124,"p1":0.80082}]},
"mark": {"type": "rect", "fill": "#000000"},
"encoding": {
"x": {"field": "i0", "type": "quantitative", "title": null},
"x2": {"field": "i1"},
"y": {"field": "p0", "type": "quantitative", "title": null},
"y2": {"field": "p1"}
}
},
{
"data": {"values": [{"i":306.6,"p":0.80103,"t":"0.80100"}]},
"mark": {"type": "text", "fontSize": 5, "color": "#ffffff", "align": "left", "baseline": "middle"},
"encoding": {
"x": {"field": "i", "type": "quantitative", "title": null},
"y": {"field": "p", "type": "quantitative", "title": null},
"text": {"field": "t"}
}
}
]
}
